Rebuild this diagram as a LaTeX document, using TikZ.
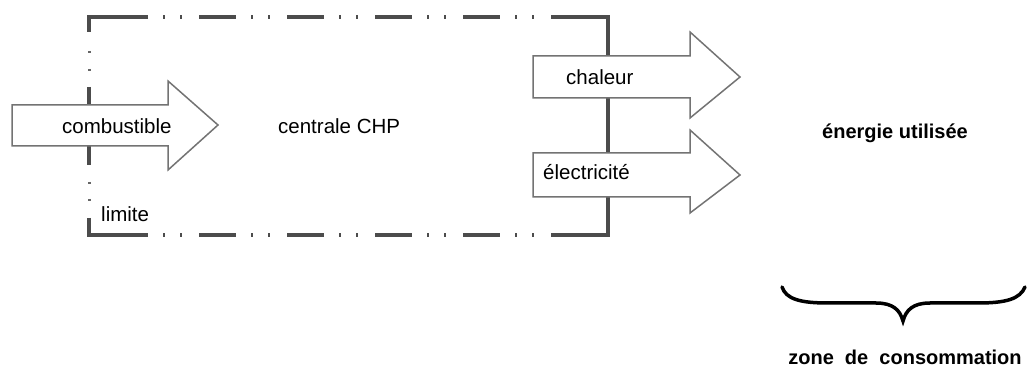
\documentclass[tikz,border=0pt]{standalone}
\usepackage{fontspec}
\setmainfont{Liberation Sans}
\begin{document}
\begin{tikzpicture}[x=1pt,y=-1pt,
  boundary/.style={draw=black!70,line width=3.4pt},
  dotmark/.style={draw=black!60,line width=3pt},
  bigarrow/.style={draw=black!55,line width=1.5pt,fill=white,line join=miter},
  lbl/.style={font=\fontsize{20.5}{24}\selectfont,anchor=base west,inner sep=0pt},
  blbl/.style={font=\fontsize{20}{24}\selectfont\bfseries,anchor=base,inner sep=0pt}]
\useasboundingbox (0,0) rectangle (1028,379);
% boundary
\draw[boundary] (148,17) -- (89,17) -- (89,32);
\draw[boundary] (89,218) -- (89,235) -- (148,235);
\draw[boundary] (89,87) -- (89,165);
\draw[boundary] (551,17) -- (608,17) -- (608,235) -- (551,235);
\draw[boundary,dash pattern=on 37pt off 15pt on 2pt off 15pt on 2pt off 17pt,dash phase=37pt] (148,17) -- (551,17);
\draw[boundary,dash pattern=on 37pt off 15pt on 2pt off 15pt on 2pt off 17pt,dash phase=37pt] (148,235) -- (551,235);
\foreach \yy in {51,69,182,199} \draw[dotmark] (89,\yy) -- (89,\yy+2.5);
% arrows
\draw[bigarrow] (12,105) -- (168,105) -- (168,81) -- (218,125) -- (168,170) -- (168,146) -- (12,146) -- cycle;
\draw[bigarrow] (533,56) -- (690,56) -- (690,32) -- (740,77) -- (690,118) -- (690,98) -- (533,98) -- cycle;
\draw[bigarrow] (533,153) -- (690,153) -- (690,130) -- (740,175) -- (690,213) -- (690,197) -- (533,197) -- cycle;
% labels
\node[lbl] (comb) at (62,134) {combustible};
\node[lbl] (chp) at (278,134) {centrale CHP};
\node[lbl] (lim) at (101,222) {limite};
\node[lbl] (chal) at (566,85) {chaleur};
\node[lbl] (elec) at (543,180) {électricité};
\node[blbl] (ener) at (895,139) {énergie utilisée};
\node[blbl] (zone) at (905,364) {zone\ \ de\ \ consommation};
% brace
\draw[line width=3.5pt,line cap=round] (782,287) .. controls (786,299) and (800,303) .. (828,303) -- (876,303) .. controls (893,303) and (900,310) .. (903,321) .. controls (906,310) and (913,303) .. (930,303) -- (978,303) .. controls (1006,303) and (1020,299) .. (1025,287);
\end{tikzpicture}
\end{document}
